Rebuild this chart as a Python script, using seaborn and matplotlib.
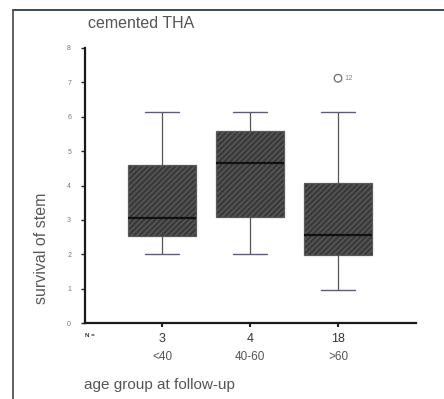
import matplotlib
matplotlib.use("Agg")
import matplotlib.pyplot as plt
import seaborn as sns
import pandas as pd
from matplotlib.lines import Line2D

# values (survival of stem, years)
groups = ["<40", "40-60", ">60"]
n_counts = ["3", "4", "18"]
whisker_low = [2.0, 2.0, 0.96]
q1 = [2.53, 3.08, 1.97]
median = [3.05, 4.65, 2.55]
q3 = [4.61, 5.59, 4.07]
whisker_high = [6.14, 6.14, 6.14]
outlier_group = [">60"]
outlier_value = [7.12]
outlier_case = ["12"]

sns.set_theme(style="white")
plt.rcParams["font.family"] = ["Liberation Sans", "DejaVu Sans"]

# five points per group reproduce the box statistics exactly (linear quantiles)
rows = []
for g, lo, a, m, b, hi in zip(groups, whisker_low, q1, median, q3, whisker_high):
    for v in (lo, a, m, b, hi):
        rows.append({"group": g, "survival": v})
df = pd.DataFrame(rows)

fig = plt.figure(figsize=(4.44, 3.99), dpi=100)
ax = fig.add_axes([85 / 444, 1 - 323 / 399, (416 - 85) / 444, (323 - 48) / 399])

sns.boxplot(data=df, x="group", y="survival", order=groups, ax=ax,
            width=0.77, color="#3b3b3b", showfliers=False, whis=1.5,
            linewidth=0.9, linecolor="#505050",
            medianprops={"color": "#111111", "linewidth": 1.6},
            whiskerprops={"color": "#555555", "linewidth": 0.9},
            capprops={"color": "#5c5c7a", "linewidth": 1.0})

for p in ax.patches:
    p.set_facecolor("#3a3a3a")
    p.set_edgecolor("#5a5a5a")
    p.set_hatch("//////")

# outlier with case number
out = pd.DataFrame({"group": outlier_group, "survival": outlier_value})
sns.scatterplot(data=out, x="group", y="survival", ax=ax, marker="o",
                s=30, facecolor="none", edgecolor="#6a6a6a", linewidth=0.9,
                legend=False, zorder=5)
for g, v, c in zip(outlier_group, outlier_value, outlier_case):
    ax.text(groups.index(g) + 0.07, v, c, fontsize=5.5, color="#888888",
            va="center", ha="left")

ax.set_xlim(-0.875, 2.886)
ax.set_ylim(0, 8)
ax.set_yticks(range(0, 9))
ax.set_yticklabels([str(i) for i in range(0, 9)], fontsize=5, color="#777777")
ax.set_xticks(range(len(groups)))
ax.set_xticklabels(n_counts, fontsize=9, color="#333333")
ax.tick_params(axis="y", direction="out", length=3, width=1, color="#222222", pad=7, left=True)
ax.tick_params(axis="x", direction="out", length=3, width=1.5, color="#222222", pad=4, bottom=True)

for side in ["top", "right"]:
    ax.spines[side].set_visible(False)
ax.spines["left"].set_color("#1a1a1a")
ax.spines["left"].set_linewidth(1.6)
ax.spines["bottom"].set_color("#1a1a1a")
ax.spines["bottom"].set_linewidth(1.6)

for i, g in enumerate(groups):
    ax.text(i, -0.125, g, transform=ax.get_xaxis_transform(), ha="center",
            va="center", fontsize=8.5, color="#555555")
ax.text(0, -0.045, "N =", transform=ax.transAxes, ha="left", va="center",
        fontsize=4.5, color="#333333", fontweight="bold")

ax.set_xlabel("")
ax.set_ylabel("survival of stem", fontsize=11.5, color="#5a5a5a")
ax.yaxis.set_label_coords(-0.11, 0.27)

fig.text(88 / 444, 1 - 23 / 399, "cemented THA", fontsize=11.5, color="#555555",
         ha="left", va="center")
fig.text(84 / 444, 1 - 385 / 399, "age group at follow-up", fontsize=11,
         color="#555555", ha="left", va="center")

# page frame of the scanned figure
fig.add_artist(Line2D([13 / 444, 13 / 444], [0, 1 - 10 / 399], transform=fig.transFigure,
                      color="#444444", linewidth=1.2))
fig.add_artist(Line2D([13 / 444, 1], [1 - 10 / 399, 1 - 10 / 399], transform=fig.transFigure,
                      color="#3a4a5a", linewidth=1.4))

fig.savefig("out.png", dpi=100, facecolor="white")
